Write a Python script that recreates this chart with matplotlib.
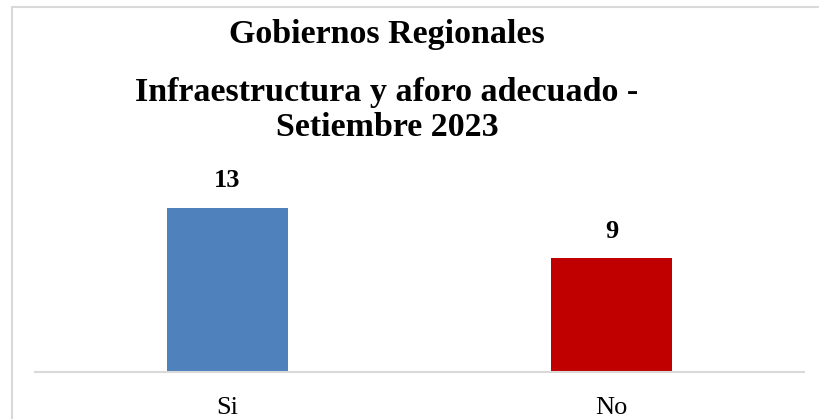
import matplotlib
matplotlib.use("Agg")
import matplotlib.pyplot as plt
from matplotlib.patches import Rectangle

# datos
categorias = ["Si", "No"]
valores = [13, 9]
colores = ["#4f81bd", "#c00000"]

titulo_1 = "Gobiernos Regionales"
titulo_2 = "Infraestructura y aforo adecuado -"
titulo_3 = "Setiembre 2023"

plt.rcParams['font.family'] = ['Liberation Serif', 'DejaVu Serif']

fig = plt.figure(figsize=(8.2, 4.19), dpi=100)

# marco del grafico (sale por la derecha y por abajo)
fig.patches.append(Rectangle((12 / 820, -0.1), 1.05, 1.1 - 7 / 419,
                             transform=fig.transFigure, fill=False,
                             edgecolor='#d9d9d9', linewidth=1.5))

ax = fig.add_axes([35 / 820, 47 / 419, 769 / 820, 202 / 419])
x = range(len(categorias))
barras = ax.bar(x, valores, width=0.315, color=colores, zorder=2)

for b, v in zip(barras, valores):
    ax.annotate(str(v), (b.get_x() + b.get_width() / 2, v),
                xytext=(0, 19.5), textcoords='offset points',
                ha='center', va='center', fontsize=19, fontweight='bold')

ax.set_xlim(-0.5, 1.5)
ax.set_ylim(0, 16)
ax.set_xticks(list(x))
ax.set_xticklabels(categorias, fontsize=19)
ax.tick_params(axis='x', length=0, pad=18)
ax.set_yticks([])
for s in ['top', 'right', 'left']:
    ax.spines[s].set_visible(False)
ax.spines['bottom'].set_color('#d9d9d9')
ax.spines['bottom'].set_linewidth(1.5)

fig.text(0.472, 1 - 35 / 419, titulo_1, ha='center', va='center',
         fontsize=24.5, fontweight='bold')
fig.text(0.472, 1 - 92 / 419, titulo_2, ha='center', va='center',
         fontsize=24.5, fontweight='bold')
fig.text(0.472, 1 - 127 / 419, titulo_3, ha='center', va='center',
         fontsize=24.5, fontweight='bold')

fig.savefig("out.png", dpi=100)
